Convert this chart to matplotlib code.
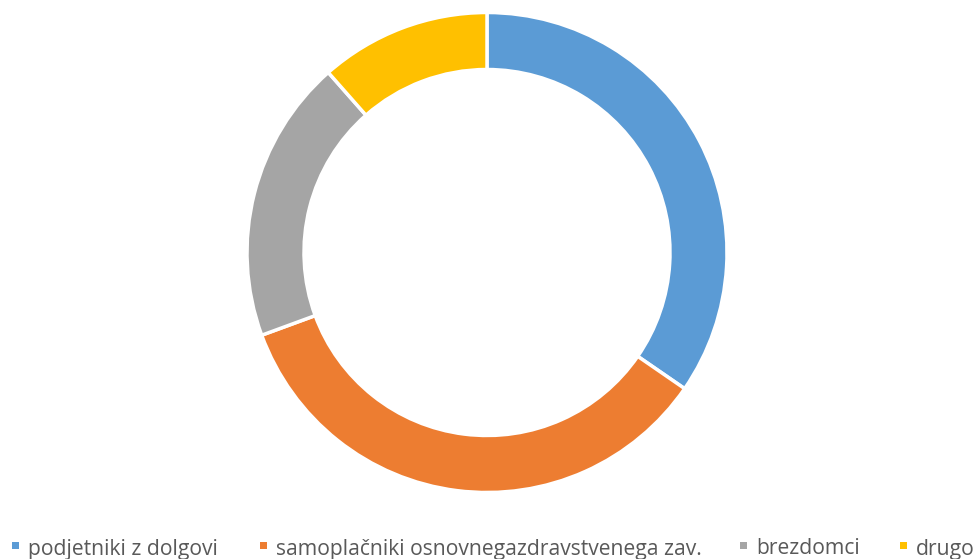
import matplotlib
matplotlib.use("Agg")
import matplotlib.pyplot as plt
from matplotlib.patches import Rectangle

# ── Data ──────────────────────────────────────────────────────────────────────
labels = ["podjetniki z dolgovi", "samoplačniki osnovnegazdravstvenega zav.",
          "brezdomci", "drugo"]
shares = [34.6, 34.8, 19.1, 11.5]
colors = ["#5B9BD5", "#ED7D31", "#A5A5A5", "#FFC000"]

W, H = 978, 559
fig = plt.figure(figsize=(W / 100, H / 100), dpi=100)

# donut: centre (487, 252) px from top-left, outer radius 240 px
cx, cy, r = 487, 252.5, 240
ax = fig.add_axes([(cx - r) / W, (H - cy - r) / H, 2 * r / W, 2 * r / H])
ax.pie(shares, colors=colors, startangle=90, counterclock=False,
       radius=1.0, wedgeprops=dict(width=0.2375, edgecolor="white", linewidth=2.5))
ax.set_xlim(-1, 1)
ax.set_ylim(-1, 1)
ax.set_aspect("equal")
ax.axis("off")

# ── Legend row at the bottom ──────────────────────────────────────────────────
leg_x = [12, 260, 740, 900]   # marker left edge, px
for x, lab, col in zip(leg_x, labels, colors):
    fig.patches.append(Rectangle((x / W, 10 / H), 7 / W, 7 / H,
                                 transform=fig.transFigure, facecolor=col,
                                 edgecolor="none"))
    fig.text((x + 16) / W, 4.5 / H, lab, fontsize=15.2, family="Open Sans",
             color="#595959", va="baseline", ha="left")

fig.savefig("out.png", dpi=100)
